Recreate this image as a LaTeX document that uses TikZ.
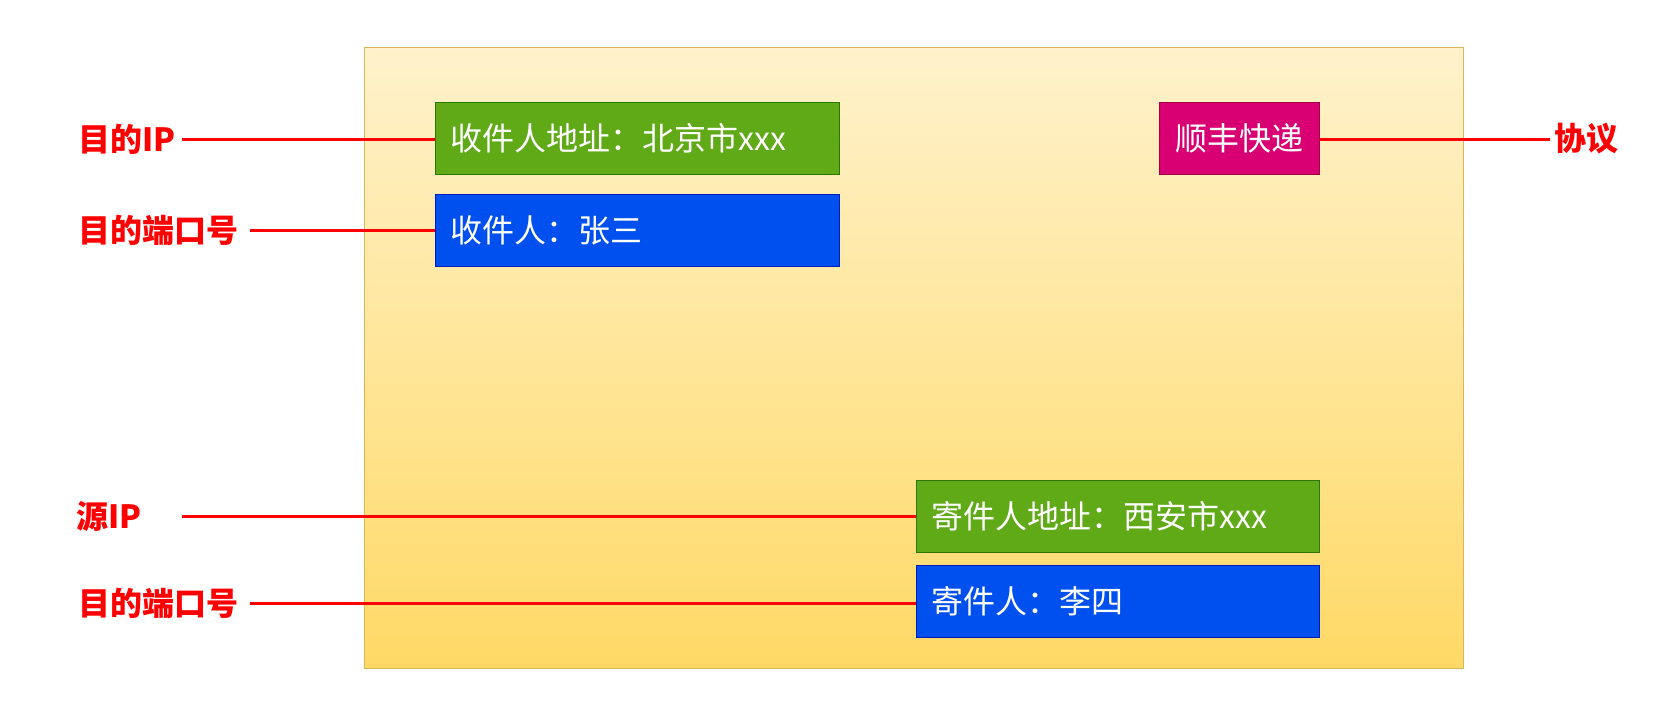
\documentclass[tikz,border=0pt]{standalone}
\usepackage{fontspec}
\newfontfamily\cjk{Noto Sans CJK SC}
\definecolor{envtop}{HTML}{FFF2CC}
\definecolor{envbot}{HTML}{FFD966}
\definecolor{envline}{HTML}{D6B656}
\definecolor{gfill}{HTML}{60A917}
\definecolor{gline}{HTML}{2D7600}
\definecolor{bfill}{HTML}{0050EF}
\definecolor{bline}{HTML}{001DBC}
\definecolor{mfill}{HTML}{D80073}
\definecolor{mline}{HTML}{A50040}
\definecolor{lred}{HTML}{FF0000}
\tikzset{
  field/.style={draw, line width=1.2pt, minimum width=404pt, minimum height=72pt,
    inner xsep=15pt, text=white, font=\cjk\fontsize{32}{36}\selectfont,
    text width=374pt, align=left, anchor=north west},
  greenbox/.style={field, fill=gfill, draw=gline},
  bluebox/.style={field, fill=bfill, draw=bline},
  tag/.style={text=lred, font=\cjk\bfseries\fontsize{32}{36}\selectfont, inner sep=0pt},
  wire/.style={draw=lred, line width=3pt}
}
\begin{document}
\begin{tikzpicture}[x=1pt,y=-1pt]
\useasboundingbox (0,0) rectangle (1661,704);
% envelope
\node[draw=envline, line width=1.2pt, top color=envtop, bottom color=envbot,
  minimum width=1099pt, minimum height=621pt, anchor=north west, inner sep=0pt]
  (env) at (364,47) {};
% fields
\node[greenbox] (dip) at (435,102) {收件人地址：北京市xxx};
\node[bluebox] (dport) at (435,194) {收件人：张三};
\node[draw=mline, fill=mfill, line width=1.2pt, minimum width=160pt, minimum height=72pt,
  inner sep=0pt, text=white, font=\cjk\fontsize{32}{36}\selectfont, anchor=north west]
  (proto) at (1159,102) {顺丰快递};
\node[greenbox, minimum width=403pt, text width=373pt] (sip) at (916,480) {寄件人地址：西安市xxx};
\node[bluebox, minimum width=403pt, text width=373pt] (sport) at (916,565) {寄件人：李四};
% labels
\node[tag, anchor=west] (l1) at (78,139) {目的IP};
\node[tag, anchor=west] (l2) at (78,230) {目的端口号};
\node[tag, anchor=west] (l3) at (1554,139) {协议};
\node[tag, anchor=west] (l4) at (76,516) {源IP};
\node[tag, anchor=west] (l5) at (78,603) {目的端口号};
% free ends
\coordinate (c1) at (182,139);
\coordinate (c2) at (250,230);
\coordinate (c3) at (1550,139);
\coordinate (c4) at (182,516);
\coordinate (c5) at (250,603);
% connectors
\draw[wire] (c1) -- (c1 -| dip.west);
\draw[wire] (c2) -- (c2 -| dport.west);
\draw[wire] (proto.east |- c3) -- (c3);
\draw[wire] (c4) -- (c4 -| sip.west);
\draw[wire] (c5) -- (c5 -| sport.west);
\end{tikzpicture}
\end{document}
